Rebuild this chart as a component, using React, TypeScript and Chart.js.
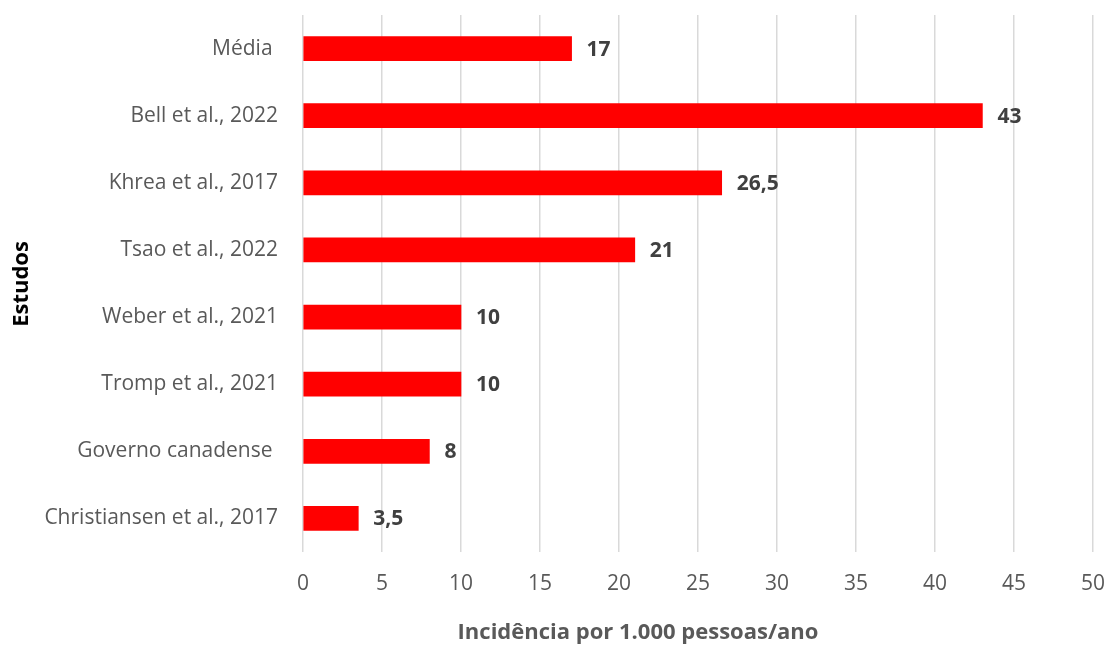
import React, { useEffect, useRef } from "react";
import { Chart, registerables } from "chart.js";

Chart.register(...registerables);

const categories = [
  "Média ",
  "Bell et al., 2022",
  "Khrea et al., 2017",
  "Tsao et al., 2022",
  "Weber et al., 2021",
  "Tromp et al., 2021",
  "Governo canadense ",
  "Christiansen et al., 2017",
];
const values = [17, 43, 26.5, 21, 10, 10, 8, 3.5];
const xTitle = "Incidência por 1.000 pessoas/ano";
const yTitle = "Estudos";

const FONT = "'Open Sans', sans-serif";

const dataLabelPlugin = {
  id: "dataLabels",
  afterDatasetsDraw(chart: any) {
    const ctx = chart.ctx;
    const meta = chart.getDatasetMeta(0);
    ctx.save();
    ctx.font = `bold 21px ${FONT}`;
    ctx.fillStyle = "#404040";
    ctx.textAlign = "left";
    ctx.textBaseline = "middle";
    meta.data.forEach((bar: any, i: number) => {
      const v = chart.data.datasets[0].data[i];
      const txt = String(v).replace(".", ",");
      ctx.fillText(txt, bar.x + 15, bar.y + 1);
    });
    ctx.restore();
  },
};

const titlesPlugin = {
  id: "axisTitles",
  afterDraw(chart: any) {
    const ctx = chart.ctx;
    ctx.save();
    ctx.font = `bold 22px ${FONT}`;
    ctx.textAlign = "center";
    ctx.textBaseline = "middle";
    ctx.fillStyle = "#595959";
    ctx.fillText(xTitle, 638, 633);
    ctx.translate(22, 284);
    ctx.rotate(-Math.PI / 2);
    ctx.fillStyle = "#000000";
    ctx.fillText(yTitle, 0, 0);
    ctx.restore();
  },
};

export default function App() {
  const ref = useRef<HTMLCanvasElement | null>(null);
  useEffect(() => {
    if (!ref.current) return;
    const chart = new Chart(ref.current, {
      type: "bar",
      data: {
        labels: categories,
        datasets: [
          {
            data: values,
            backgroundColor: "#ff0000",
            borderWidth: 0,
            barThickness: 24,
          },
        ],
      },
      options: {
        indexAxis: "y",
        animation: false,
        responsive: true,
        maintainAspectRatio: false,
        layout: { padding: { top: 15, right: 13, bottom: 0, left: 0 } },
        plugins: {
          legend: { display: false },
          tooltip: { enabled: false },
        },
        scales: {
          x: {
            min: 0,
            max: 50,
            ticks: {
              stepSize: 5,
              padding: 19,
              color: "#595959",
              font: { family: FONT, size: 21 },
            },
            grid: { color: "#d9d9d9", lineWidth: 1.5, drawTicks: false },
            border: { display: false },
            afterFit: (s: any) => {
              s.height = 93;
              s.paddingLeft = 0;
              s.paddingRight = 0;
            },
          },
          y: {
            ticks: {
              padding: 25,
              color: "#595959",
              font: { family: FONT, size: 21 },
            },
            grid: { display: false, drawTicks: false },
            border: { display: false },
            afterFit: (s: any) => {
              s.width = 303;
              s.paddingTop = 0;
              s.paddingBottom = 0;
            },
          },
        },
      },
      plugins: [dataLabelPlugin, titlesPlugin],
    });
    return () => chart.destroy();
  }, []);
  return (
    <div style={{ position: "fixed", left: 0, top: 0, width: 1106, height: 645, background: "#fff" }}>
      <canvas ref={ref} />
    </div>
  );
}
